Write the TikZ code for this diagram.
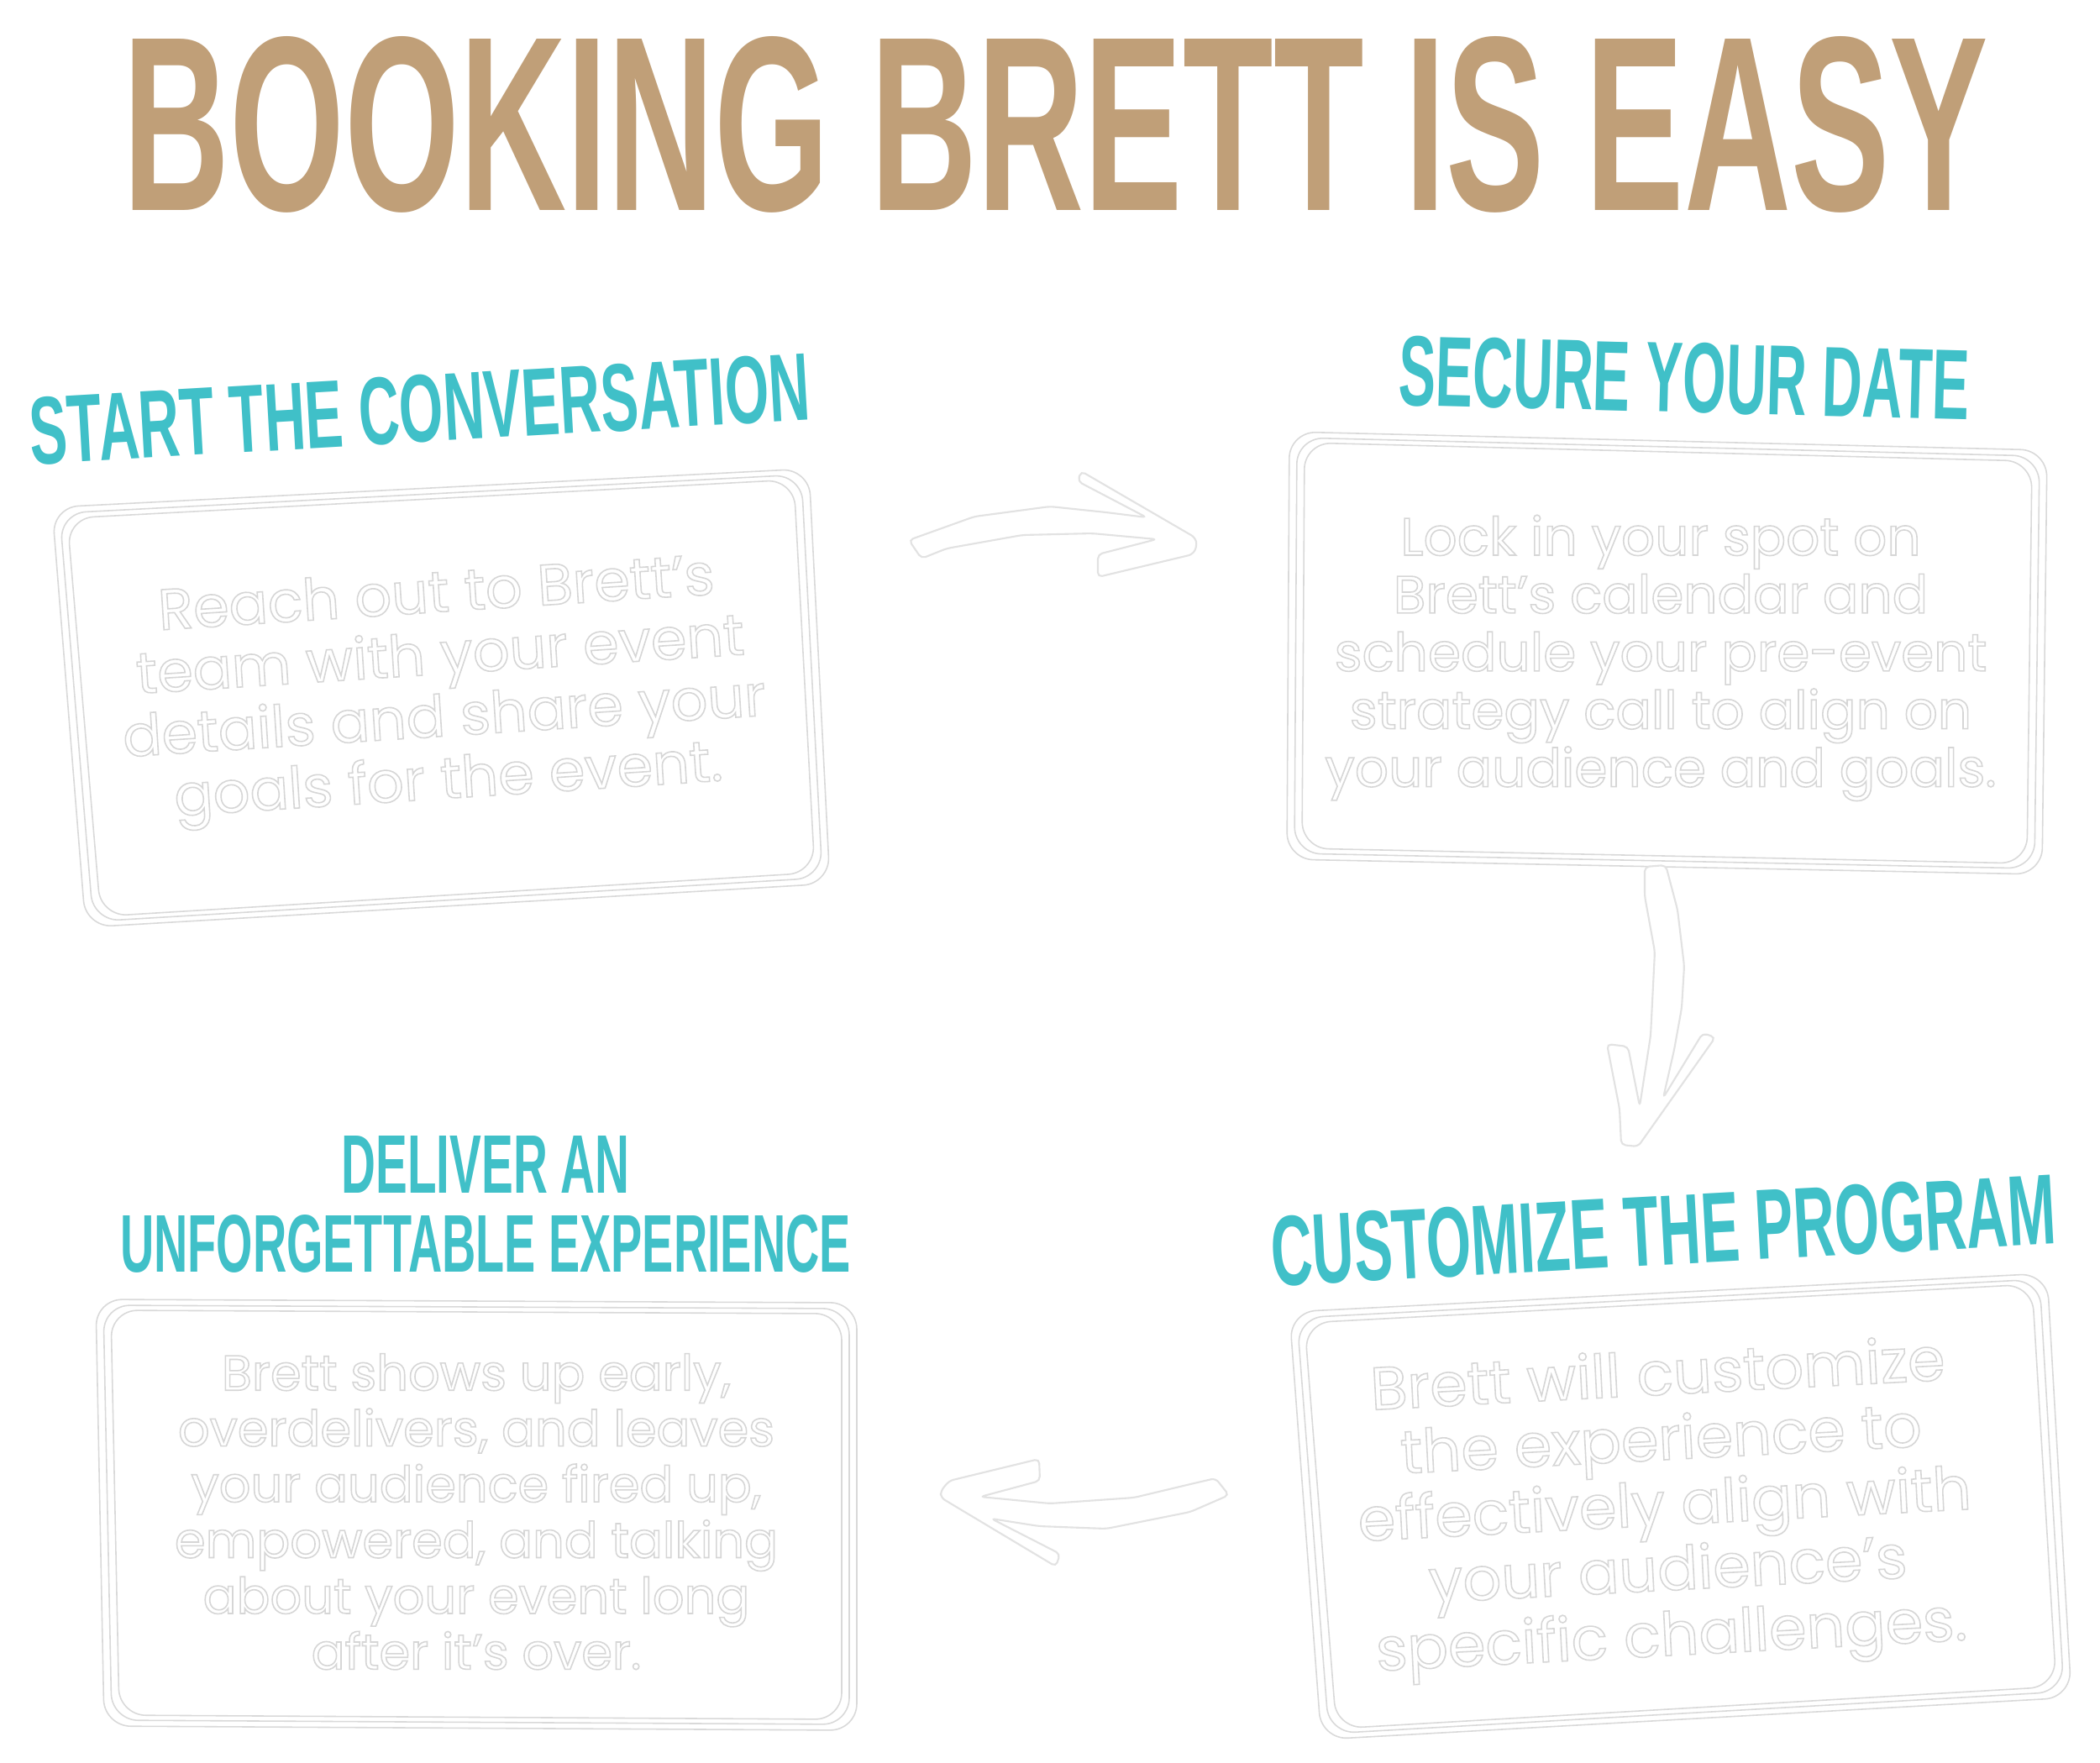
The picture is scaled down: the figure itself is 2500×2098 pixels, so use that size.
\documentclass[tikz,border=0pt]{standalone}
\usepackage{fontspec}
\usetikzlibrary{positioning, calc}
\newfontfamily\headfont{Liberation Sans}
\newfontfamily\bodyfont{Poppins}
\definecolor{brtan}{HTML}{C09F78}
\definecolor{brteal}{HTML}{40C0C8}
\definecolor{brline}{HTML}{D9D9D9}
\definecolor{brfaint}{HTML}{E2E2E2}
% white letters with a thin grey rim
\newcommand\outlinetext[1]{\special{pdf:literal direct 2 Tr 0.45 w 0.84 G}#1\special{pdf:literal direct 0 Tr}}

\begin{document}
\begin{tikzpicture}[x=0.1mm, y=-0.1mm,
    heading/.style={inner sep=0pt, text=brteal, font=\headfont\bfseries},
    body/.style={inner sep=0pt, text=white, font=\bodyfont, align=center},
    sketch/.style={draw=brline, line width=0.45pt, rounded corners=9pt},
    arrowshape/.style={draw=brfaint, line width=0.6pt, rounded corners=1.5pt, fill=white}]
  \fill[white] (0,0) rectangle (2500,2098);
  \useasboundingbox (0,0) rectangle (2500,2098);

  \node[heading, text=brtan] (title) at (1257,148) {\resizebox{222mm}{20.7mm}{BOOKING BRETT IS EASY}};

  % hand drawn frames
  \coordinate (b1tl) at (62,604);   \coordinate (b1tr) at (963,558);
  \coordinate (b1br) at (988,1052); \coordinate (b1bl) at (102,1104);
  \coordinate (b2tl) at (1535,514); \coordinate (b2tr) at (2437,536);
  \coordinate (b2br) at (2431,1041);\coordinate (b2bl) at (1532,1023);
  \coordinate (b3tl) at (114,1547); \coordinate (b3tr) at (1020,1551);
  \coordinate (b3br) at (1020,2060);\coordinate (b3bl) at (124,2055);
  \coordinate (b4tl) at (1535,1562);\coordinate (b4tr) at (2437,1516);
  \coordinate (b4br) at (2466,2021);\coordinate (b4bl) at (1573,2071);
  \foreach \bx in {b1,b2,b3,b4}
    \foreach \d/\e in {0/0, 9/7, 18/13}
      \draw[sketch] ($(\bx tl)+(\d,\e)$) -- ($(\bx tr)+(-\d,\e)$) -- ($(\bx br)+(-\d,-\e)$) -- ($(\bx bl)+(\d,-\e)$) -- cycle;

  \node[heading, rotate=3.3] (starthead) at (500,487) {\resizebox{93mm}{8mm}{START THE CONVERSATION}};
  \node[heading, rotate=-1.5] (securehead) at (2005,450) {\resizebox{68mm}{8.3mm}{SECURE YOUR DATE}};
  \node[heading] (deliverhead) at (578,1386) {\resizebox{34.3mm}{6.8mm}{DELIVER AN}};
  \node[heading, below=2.5mm of deliverhead] (deliverhead2) {\resizebox{87mm}{6.8mm}{UNFORGETTABLE EXPERIENCE}};
  \node[heading, rotate=3.1] (customhead) at (1980,1465) {\resizebox{93.5mm}{8.3mm}{CUSTOMIZE THE PROGRAM}};

  \node[body, rotate=3.7] (starttext) at (527,825) {\fontsize{19.5}{20.7}\selectfont\outlinetext{\begin{tabular}{@{}c@{}}Reach out to Brett’s\\ team with your event\\ details and share your\\ goals for the event.\end{tabular}}};
  \node[body] (securetext) at (1977,785) {\fontsize{17.9}{19.6}\selectfont\outlinetext{\begin{tabular}{@{}c@{}}Lock in your spot on\\ Brett’s calendar and\\ schedule your pre-event\\ strategy call to align on\\ your audience and goals.\end{tabular}}};
  \node[body] (delivertext) at (567,1808) {\fontsize{16.8}{18.9}\selectfont\outlinetext{\begin{tabular}{@{}c@{}}Brett shows up early,\\ overdelivers, and leaves\\ your audience fired up,\\ empowered, and talking\\ about your event long\\ after it’s over.\end{tabular}}};
  \node[body, rotate=3] (customtext) at (1982,1800) {\fontsize{20.4}{21.8}\selectfont\outlinetext{\begin{tabular}{@{}c@{}}Brett will customize\\ the experience to\\ effectively align with\\ your audience’s\\ specific challenges.\end{tabular}}};

  % sketched arrows
  \draw[arrowshape] (1082,643) -- (1160,615) -- (1250,603) -- (1317,610) -- (1365,616) -- (1283,573) -- (1287,561)
    -- (1423,640) -- (1425,650) -- (1420,660) -- (1307,687) -- (1307,660) -- (1377,642) -- (1300,635)
    -- (1217,637) -- (1127,653) -- (1097,665) -- cycle;
  \draw[arrowshape] (1958,1032) -- (1983,1030) -- (1997,1083) -- (2005,1150) -- (2002,1200) -- (1993,1250)
    -- (1980,1307) -- (2027,1230) -- (2042,1235) -- (1950,1365) -- (1930,1363) -- (1928,1320) -- (1913,1243)
    -- (1938,1246) -- (1952,1317) -- (1965,1233) -- (1970,1133) -- (1958,1067) -- cycle;
  \draw[arrowshape] (1120,1775) -- (1130,1763) -- (1237,1737) -- (1238,1763) -- (1167,1782) -- (1250,1790)
    -- (1350,1783) -- (1417,1767) -- (1447,1760) -- (1463,1780) -- (1417,1800) -- (1317,1820) -- (1237,1817)
    -- (1180,1808) -- (1262,1850) -- (1257,1865) -- (1120,1783) -- cycle;
\end{tikzpicture}
\end{document}
